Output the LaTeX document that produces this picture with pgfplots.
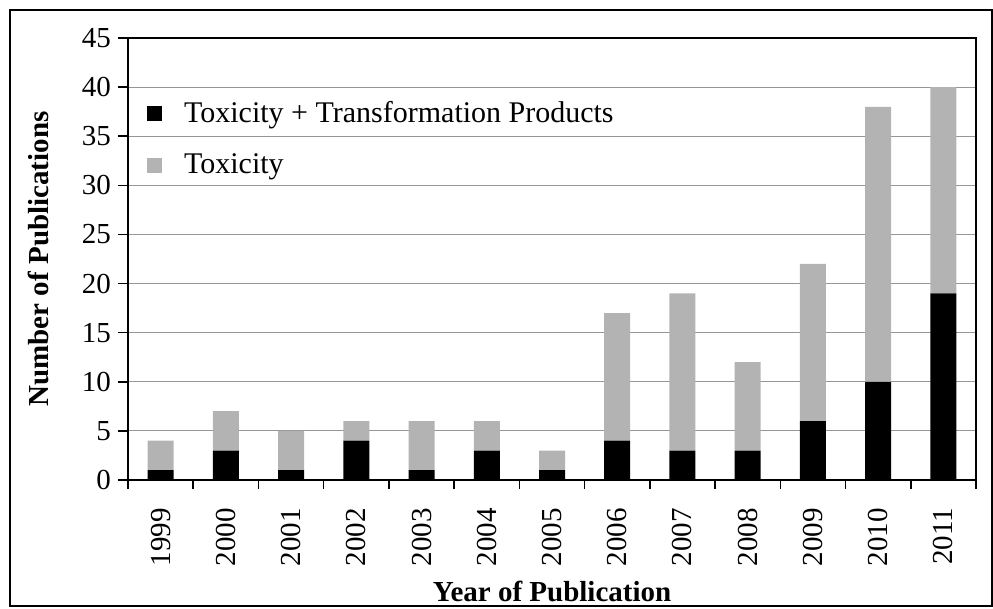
\documentclass[border=0pt]{standalone}
\usepackage{pgfplots}
\pgfplotsset{compat=1.18}
\usepackage{fontspec}
\setmainfont{Liberation Serif}
\definecolor{bargray}{RGB}{179,179,179}
\definecolor{gridgray}{RGB}{150,150,150}
\begin{document}
\begin{tikzpicture}[font=\fontsize{14.5}{17}\selectfont]
\begin{axis}[name=ax, scale only axis, width=424pt, height=221pt,
  ybar stacked, bar width=13pt,
  xmin=-0.5, xmax=12.5, ymin=0, ymax=45,
  xtick={0,1,2,3,4,5,6,7,8,9,10,11,12},
  xticklabels={1999,2000,2001,2002,2003,2004,2005,2006,2007,2008,2009,2010,2011},
  minor xtick={-0.5,0.5,...,12.5},
  ytick={0,5,...,45},
  tick align=outside, tick pos=left,
  major tick length=5pt, minor tick length=4.5pt,
  major x tick style={draw=none},
  minor x tick style={draw=black, line width=0.75pt},
  major y tick style={draw=black, line width=0.75pt},
  ymajorgrids, grid style={gridgray, line width=0.6pt},
  axis line style={line width=0.8pt},
  xticklabel style={rotate=90, anchor=east},
  xticklabel shift=5.5pt,
  xlabel={\textbf{Year of Publication}},
  ylabel={\textbf{Number of Publications}},
  xlabel style={at={(axis description cs:0.5,-0.253)}, anchor=center},
  ylabel style={at={(axis description cs:-0.106,0.5)}, anchor=center},
  /pgf/number format/assume math mode=true,
  legend style={draw=none, fill=none, at={(0.015,0.875)}, anchor=north west,
    legend cell align=left, row sep=10pt, font=\fontsize{15}{17}\selectfont},
  legend image code/.code={\fill[#1] (0pt,-3.75pt) rectangle (7.5pt,3.75pt);
    \path[draw=none, fill=none] (0pt,0pt) rectangle (16.5pt,0.1pt);},
]
\addplot[fill=black, draw=none] coordinates {
  (0,1) (1,3) (2,1) (3,4) (4,1) (5,3) (6,1) (7,4) (8,3) (9,3) (10,6) (11,10) (12,19)};
\addlegendentry{Toxicity + Transformation Products}
\addplot[fill=bargray, draw=none] coordinates {
  (0,3) (1,4) (2,4) (3,2) (4,5) (5,3) (6,2) (7,13) (8,16) (9,9) (10,16) (11,28) (12,21)};
\addlegendentry{Toxicity}
\end{axis}
\draw[line width=0.75pt] ([shift={(-59pt,-63pt)}]ax.south west) rectangle ([shift={(8pt,14pt)}]ax.north east);
\path ([shift={(-64pt,-63.5pt)}]ax.south west) rectangle ([shift={(8.5pt,19pt)}]ax.north east);
\end{tikzpicture}
\end{document}
